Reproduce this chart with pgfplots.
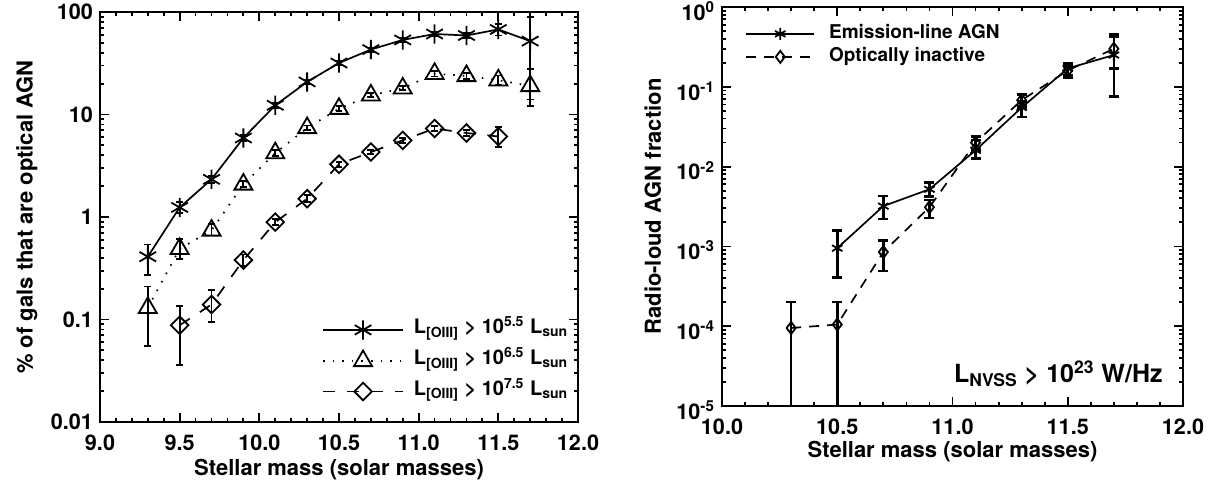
\documentclass[border=0pt]{standalone}
\usepackage{fontspec}
\setmainfont{TeX Gyre Heros}
\usepackage{pgfplots}
\usepackage{pgfplotstable}
\pgfplotsset{compat=1.18}

% Left panel data: x, value, lower end of error bar, upper end of error bar
\pgfplotstableread{
x y lo hi
9.3 0.41 0.27 0.54
9.5 1.24 1.10 1.40
9.7 2.33 2.15 2.52
9.9 5.9 5.5 6.3
10.1 12.3 11.6 13.0
10.3 20.8 19.8 21.8
10.5 31.8 30.3 33.3
10.7 43 41 45
10.9 53.4 51 56
11.1 61 58 64
11.3 59 56 62
11.5 67.6 59 77
11.7 52 12 90
}\starL
\pgfplotstableread{
x y lo hi
9.3 0.13 0.055 0.21
9.5 0.49 0.39 0.61
9.7 0.74 0.66 0.86
9.9 2.08 1.95 2.25
10.1 4.2 3.95 4.5
10.3 7.4 7.0 7.8
10.5 11.4 10.9 12.0
10.7 15.4 14.7 16.1
10.9 18 17.2 19
11.1 25 23.5 26.5
11.3 23.8 22.3 25.3
11.5 21.6 19.5 24
11.7 19 14 28
}\triL
\pgfplotstableread{
x y lo hi
9.5 0.088 0.036 0.135
9.7 0.14 0.094 0.195
9.9 0.38 0.33 0.43
10.1 0.89 0.83 0.96
10.3 1.51 1.40 1.63
10.5 3.27 3.10 3.45
10.7 4.3 4.1 4.5
10.9 5.6 5.3 5.9
11.1 7.3 6.9 7.7
11.3 6.6 6.2 7.0
11.5 6.1 4.85 7.6
}\diaL
% Right panel data
\pgfplotstableread{
x y lo hi
10.5 0.00095 0.00041 0.00157
10.7 0.0032 0.0022 0.0043
10.9 0.0052 0.0042 0.0063
11.1 0.016 0.0127 0.0215
11.3 0.055 0.042 0.065
11.5 0.17 0.13 0.195
11.7 0.25 0.075 0.42
}\starR
\pgfplotstableread{
x y lo hi
10.3 0.000095 0.0000001 0.0002
10.5 0.000105 0.0000001 0.0002
10.7 0.00085 0.00049 0.00119
10.9 0.0031 0.00226 0.0038
11.1 0.020 0.016 0.024
11.3 0.068 0.055 0.080
11.5 0.16 0.14 0.18
11.7 0.30 0.17 0.45
}\diaR

\begin{document}
\begin{tikzpicture}
\useasboundingbox (0,0) rectangle (606pt,242pt);

% ---------------- Left panel ----------------
\begin{axis}[
  scale only axis, anchor=south west,
  at={(50pt,31pt)}, width=239pt, height=205pt,
  ymode=log, tick align=inside,
  major tick length=4.5pt, minor tick length=2.2pt,
  axis line style={line width=1.3pt},
  tick style={black, line width=0.9pt},
  tick label style={font=\bfseries\fontsize{10.8}{12}\selectfont},
  label style={font=\bfseries\fontsize{11}{13}\selectfont},
  legend cell align=left,
  xmin=9, xmax=12, ymin=0.01, ymax=100,
  xtick={9,9.5,10,10.5,11,11.5,12},
  xticklabels={9.0,9.5,10.0,10.5,11.0,11.5,12.0},
  minor x tick num=4,
  ytick={0.01,0.1,1,10,100}, yticklabels={0.01,0.1,1,10,100},
  minor ytick={0.02,0.03,0.04,0.05,0.06,0.07,0.08,0.09,0.2,0.3,0.4,0.5,0.6,0.7,0.8,0.9,2,3,4,5,6,7,8,9,20,30,40,50,60,70,80,90},
  xticklabel style={yshift=-3pt},
  xlabel={Stellar mass (solar masses)},
  ylabel={\% of gals that are optical AGN},
  xlabel style={at={(axis description cs:0.5,-0.117)}, anchor=center},
  ylabel style={at={(axis description cs:-0.153,0.5)}, anchor=center},
  legend style={at={(rel axis cs:0.464,0.25)}, anchor=north west, draw=none, fill=none,
    inner sep=0pt, row sep=5.3pt, column sep=5pt,
    font=\bfseries\fontsize{10}{11}\selectfont,
    nodes={inner sep=0pt, text height=7pt, text depth=3pt}},
  legend image code/.code={\draw[mark repeat=2,mark phase=2,#1] plot coordinates {(0pt,0pt) (20pt,0pt) (40pt,0pt)};},
  error bars/y dir=both, error bars/y explicit,
  error bars/error bar style={solid, line width=0.9pt},
  error bars/error mark options={rotate=90, mark size=1.7pt, line width=0.9pt},
]
\addplot[black, line width=0.85pt, mark=asterisk, mark size=4.8pt, mark options={solid, line width=0.9pt}]
  table[x=x, y=y, y error plus expr={\thisrow{hi}-\thisrow{y}}, y error minus expr={\thisrow{y}-\thisrow{lo}}] {\starL};
\addlegendentry{L\textsubscript{[OIII]} > 10\textsuperscript{5.5} L\textsubscript{sun}}
\addplot[black, line width=0.85pt, dash pattern=on 0.8pt off 4pt, mark=triangle, mark size=5.2pt, mark options={solid, line width=0.9pt}]
  table[x=x, y=y, y error plus expr={\thisrow{hi}-\thisrow{y}}, y error minus expr={\thisrow{y}-\thisrow{lo}}] {\triL};
\addlegendentry{L\textsubscript{[OIII]} > 10\textsuperscript{6.5} L\textsubscript{sun}}
\addplot[black, line width=0.85pt, dash pattern=on 6pt off 6pt, mark=square, mark size=3.1pt, mark options={solid, rotate=45, line width=0.9pt}]
  table[x=x, y=y, y error plus expr={\thisrow{hi}-\thisrow{y}}, y error minus expr={\thisrow{y}-\thisrow{lo}}] {\diaL};
\addlegendentry{L\textsubscript{[OIII]} > 10\textsuperscript{7.5} L\textsubscript{sun}}
\end{axis}

% ---------------- Right panel ----------------
\begin{axis}[
  scale only axis, anchor=south west,
  at={(361pt,39pt)}, width=230.5pt, height=199.5pt,
  ymode=log, tick align=inside,
  major tick length=4.5pt, minor tick length=2.2pt,
  axis line style={line width=1.3pt},
  tick style={black, line width=0.9pt},
  tick label style={font=\bfseries\fontsize{10.8}{12}\selectfont},
  label style={font=\bfseries\fontsize{11}{13}\selectfont},
  legend cell align=left,
  xmin=10, xmax=12, ymin=1e-5, ymax=1,
  xtick={10,10.5,11,11.5,12},
  xticklabels={10.0,10.5,11.0,11.5,12.0},
  minor x tick num=4,
  ytick={1e-5,1e-4,1e-3,1e-2,1e-1,1},
  yticklabels={10\textsuperscript{-5},10\textsuperscript{-4},10\textsuperscript{-3},10\textsuperscript{-2},10\textsuperscript{-1},10\textsuperscript{0}},
  minor ytick={2e-5,3e-5,4e-5,5e-5,6e-5,7e-5,8e-5,9e-5,2e-4,3e-4,4e-4,5e-4,6e-4,7e-4,8e-4,9e-4,2e-3,3e-3,4e-3,5e-3,6e-3,7e-3,8e-3,9e-3,0.02,0.03,0.04,0.05,0.06,0.07,0.08,0.09,0.2,0.3,0.4,0.5,0.6,0.7,0.8,0.9},
  xticklabel style={yshift=-3pt},
  yticklabel style={yshift=-2pt},
  xlabel={Stellar mass (solar masses)},
  ylabel={Radio-loud AGN fraction},
  xlabel style={at={(axis description cs:0.5,-0.115)}, anchor=center},
  ylabel style={at={(axis description cs:-0.15,0.5)}, anchor=center},
  legend style={at={(rel axis cs:0.05,0.955)}, anchor=north west, draw=none, fill=none,
    inner sep=0pt, row sep=3pt, column sep=7pt,
    font=\bfseries\fontsize{9.5}{11}\selectfont,
    nodes={inner sep=0pt, text height=6.5pt, text depth=2pt}},
  legend image code/.code={\draw[mark repeat=2,mark phase=2,#1] plot coordinates {(0pt,0pt) (17pt,0pt) (34pt,0pt)};},
  error bars/y dir=both, error bars/y explicit,
  error bars/error bar style={solid, line width=1.3pt},
  error bars/error mark options={rotate=90, mark size=2.5pt, line width=1.3pt},
]
\addplot[black, line width=0.85pt, mark=asterisk, mark size=3pt, mark options={solid, line width=0.9pt}]
  table[x=x, y=y, y error plus expr={\thisrow{hi}-\thisrow{y}}, y error minus expr={\thisrow{y}-\thisrow{lo}}] {\starR};
\addlegendentry{Emission-line AGN}
\addplot[black, line width=0.85pt, dash pattern=on 5pt off 4pt, mark=diamond, mark size=3pt, mark options={solid, line width=0.9pt}]
  table[x=x, y=y, y error plus expr={\thisrow{hi}-\thisrow{y}}, y error minus expr={\thisrow{y}-\thisrow{lo}}] {\diaR};
\addlegendentry{Optically inactive}
\node[anchor=base east, inner sep=0pt, font=\bfseries\fontsize{12.5}{14}\selectfont]
  at (rel axis cs:0.9566,0.06) {L\textsubscript{NVSS} > 10\textsuperscript{23} W/Hz};
\end{axis}
\end{tikzpicture}
\end{document}
